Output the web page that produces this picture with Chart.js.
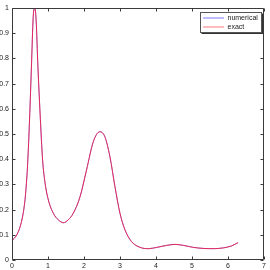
<!DOCTYPE html>
<html>
<head>
<meta charset="utf-8">
<script src="https://cdn.jsdelivr.net/npm/chart.js@4"></script>
<style>
html,body{margin:0;padding:0;background:#fff;}
#wrap{width:270px;height:270px;position:relative;}
</style>
</head>
<body>
<div id="wrap"><canvas id="c" width="270" height="270"></canvas></div>
<script>
const xValues = [0, 0.13, 0.24, 0.31, 0.37, 0.43, 0.48, 0.54, 0.59, 0.63, 0.67, 0.72, 0.78, 0.85, 0.92, 1.01, 1.15, 1.29, 1.43, 1.56, 1.70, 1.89, 2.07, 2.26, 2.44, 2.58, 2.72, 2.86, 3.00, 3.14, 3.32, 3.56, 3.79, 4.02, 4.30, 4.53, 4.76, 5.04, 5.31, 5.59, 5.87, 6.10, 6.28];
const numerical = [0.077, 0.099, 0.139, 0.185, 0.251, 0.370, 0.529, 0.767, 0.966, 1.0, 0.952, 0.767, 0.582, 0.397, 0.304, 0.238, 0.185, 0.159, 0.148, 0.159, 0.185, 0.251, 0.357, 0.470, 0.509, 0.489, 0.410, 0.291, 0.185, 0.119, 0.073, 0.050, 0.045, 0.050, 0.058, 0.062, 0.058, 0.050, 0.046, 0.045, 0.048, 0.056, 0.069];
const exact = [0.077, 0.099, 0.139, 0.185, 0.251, 0.370, 0.529, 0.767, 0.966, 1.0, 0.952, 0.767, 0.582, 0.397, 0.304, 0.238, 0.185, 0.159, 0.148, 0.159, 0.185, 0.251, 0.357, 0.470, 0.509, 0.489, 0.410, 0.291, 0.185, 0.119, 0.073, 0.050, 0.045, 0.050, 0.058, 0.062, 0.058, 0.050, 0.046, 0.045, 0.048, 0.056, 0.069];
const seriesLabels = ['numerical', 'exact'];
const xTicks = [0, 1, 2, 3, 4, 5, 6, 7];
const yTicks = [0, 0.1, 0.2, 0.3, 0.4, 0.5, 0.6, 0.7, 0.8, 0.9, 1];

const FONT = '7px "Liberation Sans", Arial, sans-serif';
const AXIS = '#3a3a3a';

const toPts = ys => xValues.map((x, i) => ({x: x, y: ys[i]}));

const frame = {
  id: 'frame',
  afterDatasetsDraw(chart) {
    const ctx = chart.ctx, a = chart.chartArea;
    const xs = chart.scales.x, ys = chart.scales.y;
    ctx.save();
    ctx.strokeStyle = AXIS;
    ctx.lineWidth = 1;
    ctx.beginPath();
    const L = Math.round(a.left) + 0.5, R = Math.round(a.right) - 0.5;
    const T = Math.round(a.top) + 0.5, B = Math.round(a.bottom) - 0.5;
    ctx.rect(L, T, R - L, B - T);
    xTicks.forEach(v => {
      const px = Math.round(xs.getPixelForValue(v)) + 0.5;
      ctx.moveTo(px, B); ctx.lineTo(px, B - 3);
      ctx.moveTo(px, T); ctx.lineTo(px, T + 3);
    });
    yTicks.forEach(v => {
      const py = Math.round(ys.getPixelForValue(v)) + 0.5;
      ctx.moveTo(L, py); ctx.lineTo(L + 3, py);
      ctx.moveTo(R, py); ctx.lineTo(R - 3, py);
    });
    ctx.stroke();

    // legend box
    const bx = 200.5, by = 12.5, bw = 61, bh = 20;
    ctx.fillStyle = '#fff';
    ctx.fillRect(bx, by, bw, bh);
    ctx.strokeStyle = '#555';
    ctx.strokeRect(bx, by, bw, bh);
    ctx.strokeStyle = '#333';
    ctx.beginPath();
    ctx.moveTo(bx + bw + 1, by + 1); ctx.lineTo(bx + bw + 1, by + bh + 1); ctx.lineTo(bx + 1, by + bh + 1);
    ctx.stroke();
    const cols = ['#7a7aff', '#ff7a7a'];
    ctx.font = FONT;
    ctx.textBaseline = 'middle';
    ctx.textAlign = 'left';
    seriesLabels.forEach((lab, i) => {
      const ly = by + 5.5 + i * 9;
      ctx.strokeStyle = cols[i];
      ctx.beginPath();
      ctx.moveTo(203, ly); ctx.lineTo(224, ly);
      ctx.stroke();
      ctx.fillStyle = '#222';
      ctx.fillText(lab, 227.5, ly);
    });
    ctx.restore();
  }
};

new Chart(document.getElementById('c'), {
  type: 'scatter',
  data: {
    datasets: [
      {label: seriesLabels[0], data: toPts(numerical), showLine: true, borderColor: 'rgba(60,60,255,0.55)', borderWidth: 1, pointRadius: 0, cubicInterpolationMode: 'monotone', order: 1},
      {label: seriesLabels[1], data: toPts(exact), showLine: true, borderColor: 'rgba(240,20,60,0.85)', borderWidth: 1, pointRadius: 0, cubicInterpolationMode: 'monotone', order: 0}
    ]
  },
  options: {
    responsive: false,
    animation: false,
    devicePixelRatio: 1,
    layout: {padding: {top: 8, right: 6, left: 0, bottom: 0}},
    plugins: {legend: {display: false}, tooltip: {enabled: false}},
    scales: {
      x: {
        type: 'linear', min: 0, max: 7,
        afterFit: s => { s.height = 10; },
        afterBuildTicks: s => { s.ticks = xTicks.map(v => ({value: v})); },
        grid: {display: false, drawTicks: false},
        border: {display: false},
        ticks: {padding: 2, font: {family: '"Liberation Sans", Arial, sans-serif', size: 7}, color: '#222', maxRotation: 0, autoSkip: false, callback: v => String(v)}
      },
      y: {
        type: 'linear', min: 0, max: 1,
        afterFit: s => { s.width = 12; },
        afterBuildTicks: s => { s.ticks = yTicks.map(v => ({value: v})); },
        grid: {display: false, drawTicks: false},
        border: {display: false},
        ticks: {padding: 3, font: {family: '"Liberation Sans", Arial, sans-serif', size: 7}, color: '#222', autoSkip: false, callback: v => String(Math.round(v * 10) / 10)}
      }
    }
  },
  plugins: [frame]
});
</script>
</body>
</html>
